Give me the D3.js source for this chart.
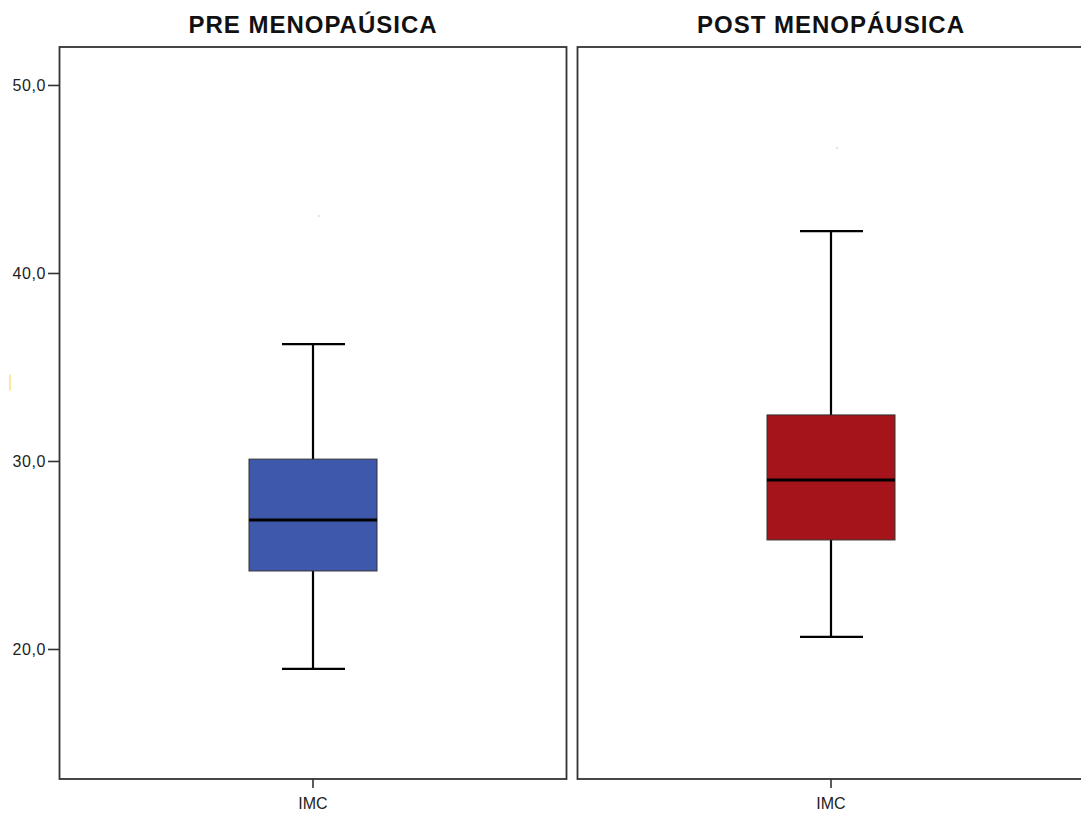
<!DOCTYPE html>
<html>
<head>
<meta charset="utf-8">
<script src="https://cdn.jsdelivr.net/npm/d3@7"></script>
<style>
  body { margin: 0; background: #fff; }
  svg { display: block; font-family: Arial, 'Liberation Sans', sans-serif; }
</style>
</head>
<body>
<div id="chart"></div>
<script>
const panels = ['PRE MENOPAÚSICA', 'POST MENOPÁUSICA']
const variable = ['IMC']
const fills = ['#3E58AC', '#A5141B']
// [min, q1, median, q3, max]
const stats = [
  [18.94, 24.15, 26.86, 30.1, 36.22],
  [20.64, 25.8, 28.99, 32.45, 42.23]
]
const outliers = [[43.03], [46.65]]
const yTicks = [20, 30, 40, 50]

const width = 1081
const height = 813
const plotTop = 47
const plotBottom = 779
const panelW = 508
const panelX = [59, 577]

const svg = d3.select('#chart').append('svg')
  .attr('width', width)
  .attr('height', height)

const y = d3.scaleLinear().domain([13.085, 52.02]).range([plotBottom, plotTop])

// y axis
const yAxis = svg.append('g')
  .attr('transform', `translate(${panelX[0]},0)`)
  .call(d3.axisLeft(y).tickValues(yTicks).tickSize(11).tickFormat(d => d3.format('.1f')(d).replace('.', ',')))
yAxis.select('.domain').remove()
yAxis.selectAll('line').attr('stroke', '#333').attr('stroke-width', 1.6)
yAxis.selectAll('text').attr('font-size', 16).attr('letter-spacing', 0.6).attr('fill', '#222').attr('x', -13)

// odd little mark at the left edge
svg.append('rect').attr('x', 9).attr('y', y(34.6)).attr('width', 2).attr('height', 16).attr('fill', '#FBE7A0')

panels.forEach(function (title, i) {
  const g = svg.append('g').attr('transform', `translate(${panelX[i]},0)`)
  const x = d3.scaleBand().domain(variable).range([0, panelW])
  const cx = x('IMC') + x.bandwidth() / 2
  const s = stats[i]

  g.append('text')
    .attr('x', panelW / 2)
    .attr('y', 33)
    .attr('text-anchor', 'middle')
    .attr('font-size', 24)
    .attr('letter-spacing', 1)
    .attr('font-weight', 'bold')
    .attr('fill', '#111')
    .text(title)

  g.append('rect')
    .attr('x', 0.5).attr('y', plotTop)
    .attr('width', panelW - 1).attr('height', plotBottom - plotTop)
    .attr('fill', 'none')
    .attr('stroke', '#333')
    .attr('stroke-width', 1.8)

  const xAxis = g.append('g')
    .attr('transform', `translate(0,${plotBottom})`)
    .call(d3.axisBottom(x).tickSize(9))
  xAxis.select('.domain').remove()
  xAxis.selectAll('line').attr('stroke', '#333').attr('stroke-width', 1.6)
  xAxis.selectAll('text').attr('font-size', 16).attr('fill', '#222').attr('y', 30).attr('dy', null)

  // whisker
  g.append('line')
    .attr('x1', cx).attr('x2', cx)
    .attr('y1', y(s[0])).attr('y2', y(s[4]))
    .attr('stroke', '#000').attr('stroke-width', 2.2)
  ;[s[0], s[4]].forEach(function (v) {
    g.append('line')
      .attr('x1', cx - 31).attr('x2', cx + 32)
      .attr('y1', y(v)).attr('y2', y(v))
      .attr('stroke', '#000').attr('stroke-width', 2.2)
  })

  g.append('rect')
    .attr('x', cx - 64).attr('width', 128)
    .attr('y', y(s[3])).attr('height', y(s[1]) - y(s[3]))
    .attr('fill', fills[i])
    .attr('stroke', '#333').attr('stroke-width', 1)

  g.append('line')
    .attr('x1', cx - 64).attr('x2', cx + 64)
    .attr('y1', y(s[2])).attr('y2', y(s[2]))
    .attr('stroke', '#000').attr('stroke-width', 3)

  g.selectAll('.out')
    .data(outliers[i])
    .enter().append('circle')
    .attr('cx', cx + 6)
    .attr('cy', d => y(d))
    .attr('r', 1.2)
    .attr('fill', '#e6e6e6')
})
</script>
</body>
</html>
